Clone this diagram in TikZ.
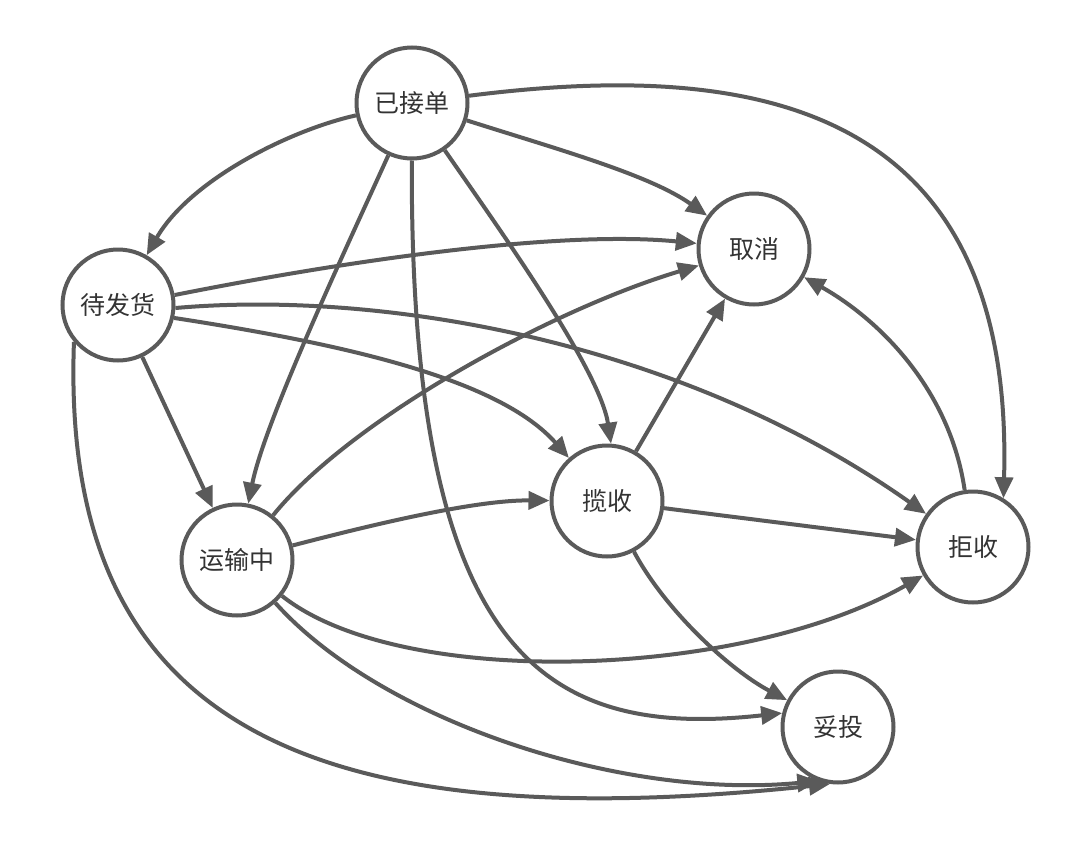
\documentclass[tikz,border=0pt]{standalone}
\usepackage{fontspec}
\setmainfont{Noto Sans CJK SC}
\usetikzlibrary{arrows.meta}
\definecolor{ln}{HTML}{5A5A5A}
\definecolor{tx}{HTML}{333333}
\begin{document}
\begin{tikzpicture}[x=1pt,y=-1pt,
  state/.style={circle,draw=ln,line width=4pt,fill=white,minimum size=111pt,inner sep=0pt,font=\fontsize{25}{28}\selectfont,text=tx},
  edge/.style={draw=ln,line width=4pt,-{Triangle[length=21pt,width=18pt]}}]
\useasboundingbox[fill=white] (0,0) rectangle (1080,846);
\node[state] (A) at (412,103) {已接单};
\node[state] (D) at (118,305) {待发货};
\node[state] (C) at (754,249) {取消};
\node[state] (L) at (607,501) {揽收};
\node[state] (T) at (237,560) {运输中};
\node[state] (R) at (973,547) {拒收};
\node[state] (W) at (838,727) {妥投};
\draw[edge] (A) .. controls (290,130) and (190,180) .. (D);
\draw[edge] (A) .. controls (350,240) and (265,420) .. (T);
\draw[edge] (A) .. controls (410,650) and (540,740) .. (W.166);
\draw[edge] (A) .. controls (500,230) and (600,370) .. (L.86);
\draw[edge] (A) .. controls (560,150) and (650,175) .. (C);
\draw[edge] (A) .. controls (750,60) and (1015,100) .. (R.58);
\draw[edge] (D.10) .. controls (350,260) and (560,230) .. (C);
\draw[edge] (D.-3) .. controls (380,290) and (680,340) .. (R);
\draw[edge] (D.-13) .. controls (350,345) and (500,380) .. (L);
\draw[edge] (D) -- (T);
\draw[edge] (D.220) .. controls (60,720) and (300,840) .. (W.262);
\draw[edge] (T) .. controls (350,420) and (550,310) .. (C);
\draw[edge] (T) .. controls (390,520) and (480,500) .. (L);
\draw[edge] (T) .. controls (400,690) and (740,680) .. (R);
\draw[edge] (T) .. controls (380,720) and (620,800) .. (W.250);
\draw[edge] (L) -- (C);
\draw[edge] (L) -- (R);
\draw[edge] (L) .. controls (665,610) and (730,670) .. (W);
\draw[edge] (R) .. controls (950,390) and (880,320) .. (C);
\end{tikzpicture}
\end{document}
